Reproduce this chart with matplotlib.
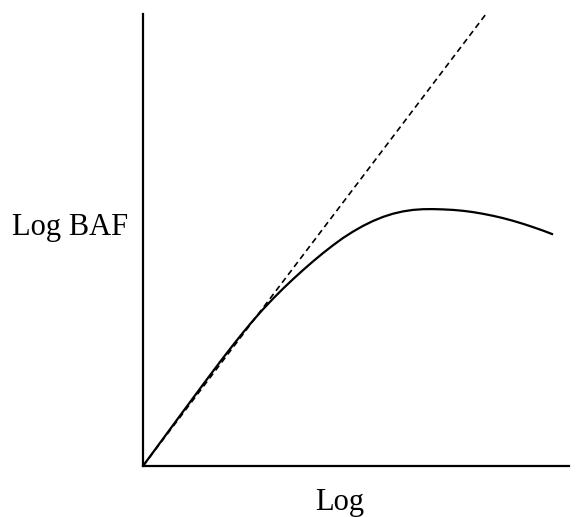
import numpy as np
import matplotlib.pyplot as plt

# solid curve (arbitrary units)
curve_x = [0, 2.0, 4.0, 6.0, 7.0, 8.0, 9.0, 10.0, 11.0, 12.0, 13.0, 14.0, 15.0, 16.0,
           17.0, 18.0, 19.0, 20.0, 21.0, 22.0, 23.0, 24.0, 25.0, 26.0, 27.0, 28.0, 29.0,
           30.0, 31.0, 32.0, 33.0, 34.0, 35.0, 36.0, 37.0, 38.0, 39.0, 40.0, 40.9]
curve_y = [0, 2.72, 5.44, 8.14, 9.48, 10.80, 12.09, 13.34, 14.54, 15.67, 16.73, 17.73, 18.68, 19.59,
           20.46, 21.29, 22.07, 22.80, 23.44, 24.01, 24.50, 24.91, 25.23, 25.46, 25.61, 25.68, 25.69,
           25.66, 25.61, 25.52, 25.39, 25.22, 25.02, 24.79, 24.52, 24.22, 23.89, 23.54, 23.2]

# dashed reference line
dash_x = [0, 34.3]
dash_y = [0, 45.2]

plt.rcParams['font.family'] = ['Liberation Serif', 'DejaVu Serif']

fig = plt.figure(figsize=(5.8, 5.17), dpi=100)
ax = fig.add_axes([143/580, 1-466/517, 426/580, 452/517])

ax.plot(dash_x, dash_y, color='black', lw=1.2, linestyle=(0, (3.6, 2.4)))
ax.plot(curve_x, curve_y, color='black', lw=1.6, solid_joinstyle='round')

ax.set_xlim(0, 42.6)
ax.set_ylim(0, 45.2)
ax.set_xticks([])
ax.set_yticks([])
for s in ['top', 'right']:
    ax.spines[s].set_visible(False)
for s in ['left', 'bottom']:
    ax.spines[s].set_linewidth(1.6)

# labels
fig.text(12/580, 1-235/517, 'Log BAF', fontsize=22, ha='left', va='baseline')
fig.text(315/580, 1-510/517, 'Log', fontsize=22, ha='left', va='baseline')

fig.savefig('out.png', dpi=100)
